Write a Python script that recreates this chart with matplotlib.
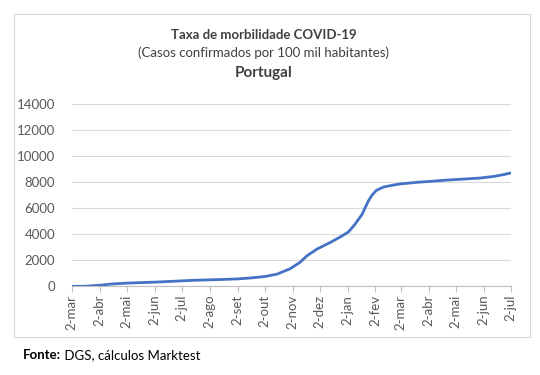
import numpy as np
import pandas as pd
import matplotlib
matplotlib.use("Agg")
import matplotlib.pyplot as plt
from matplotlib.patches import Rectangle

# Casos confirmados por 100 mil habitantes
dates = ["2020-03-02", "2020-03-16", "2020-04-02", "2020-04-16", "2020-05-02",
         "2020-05-16", "2020-06-02", "2020-06-16", "2020-07-02", "2020-07-16",
         "2020-08-02", "2020-08-16", "2020-09-02", "2020-09-16", "2020-10-02",
         "2020-10-16", "2020-10-30", "2020-11-10", "2020-11-18", "2020-11-29",
         "2020-12-14", "2020-12-25", "2021-01-03", "2021-01-10", "2021-01-18",
         "2021-01-25", "2021-01-29", "2021-02-03", "2021-02-11", "2021-02-22",
         "2021-03-02", "2021-03-20", "2021-04-07", "2021-04-22", "2021-05-11",
         "2021-05-29", "2021-06-13", "2021-06-24", "2021-07-02"]
values = [0, 3, 85, 180, 245,
          280, 320, 365, 420, 465,
          500, 525, 570, 640, 750,
          940, 1340, 1830, 2350, 2860,
          3380, 3800, 4180, 4750, 5520,
          6550, 7000, 7380, 7640, 7790,
          7880, 8000, 8090, 8170, 8250,
          8330, 8450, 8590, 8720]

tick_dates = pd.date_range("2020-03-01", "2021-07-01", freq="MS") + pd.Timedelta(days=1)
month_names = ["mar", "abr", "mai", "jun", "jul", "ago", "set", "out", "nov",
               "dez", "jan", "fev", "mar", "abr", "mai", "jun", "jul"]
tick_labels = ["2-" + m for m in month_names]

x = pd.to_datetime(dates)

plt.rcParams['font.family'] = ['Lato', 'DejaVu Sans']

fig = plt.figure(figsize=(5.4, 3.75), dpi=100)

# moldura cinzenta do grafico
fig.patches.append(Rectangle((14 / 540, 1 - 337 / 375), 516 / 540, 323 / 375,
                             transform=fig.transFigure, fill=False,
                             edgecolor='#D9D9D9', linewidth=0.8))

ax = fig.add_axes([0.1328, 0.2365, 0.8129, 0.4853])
ax.plot(x, values, color='#4472C4', linewidth=2.0)

ax.set_xlim(x[0], x[-1])
ax.set_ylim(0, 14000)
ax.set_yticks(np.arange(0, 14001, 2000))
ax.yaxis.grid(True, color='#D9D9D9', linewidth=0.8)
ax.set_axisbelow(True)

ax.set_xticks(tick_dates)
ax.set_xticklabels(tick_labels, rotation=90, ha='center', va='top')

for s in ['top', 'right', 'left']:
    ax.spines[s].set_visible(False)
ax.spines['bottom'].set_color('#BFBFBF')
ax.spines['bottom'].set_linewidth(0.8)
ax.tick_params(axis='x', colors='#BFBFBF', length=4, width=0.8, labelcolor='#595959',
               labelsize=9.5, pad=2)
ax.tick_params(axis='y', length=0, labelcolor='#595959', labelsize=9.5, pad=12)

# titulos
fig.text(263.5 / 540, 1 - 35 / 375, "Taxa de morbilidade COVID-19", ha='center', va='center',
         fontsize=9.5, fontweight='bold', color='#404040')
fig.text(263.5 / 540, 1 - 53 / 375, "(Casos confirmados por 100 mil habitantes)", ha='center',
         va='center', fontsize=9.5, color='#404040')
fig.text(263.5 / 540, 1 - 73 / 375, "Portugal", ha='center', va='center',
         fontsize=11, fontweight='bold', color='#404040')

# fonte
fonte = fig.text(23 / 540, 1 - 355 / 375, "Fonte:", ha='left', va='center', fontsize=9.5,
                 fontweight='bold', color='black')
ax.annotate(" DGS, cálculos Marktest", xy=(1.0, 0.5), xycoords=fonte,
            ha='left', va='center', fontsize=9.5, color='black', annotation_clip=False)

fig.savefig("out.png", dpi=100)
